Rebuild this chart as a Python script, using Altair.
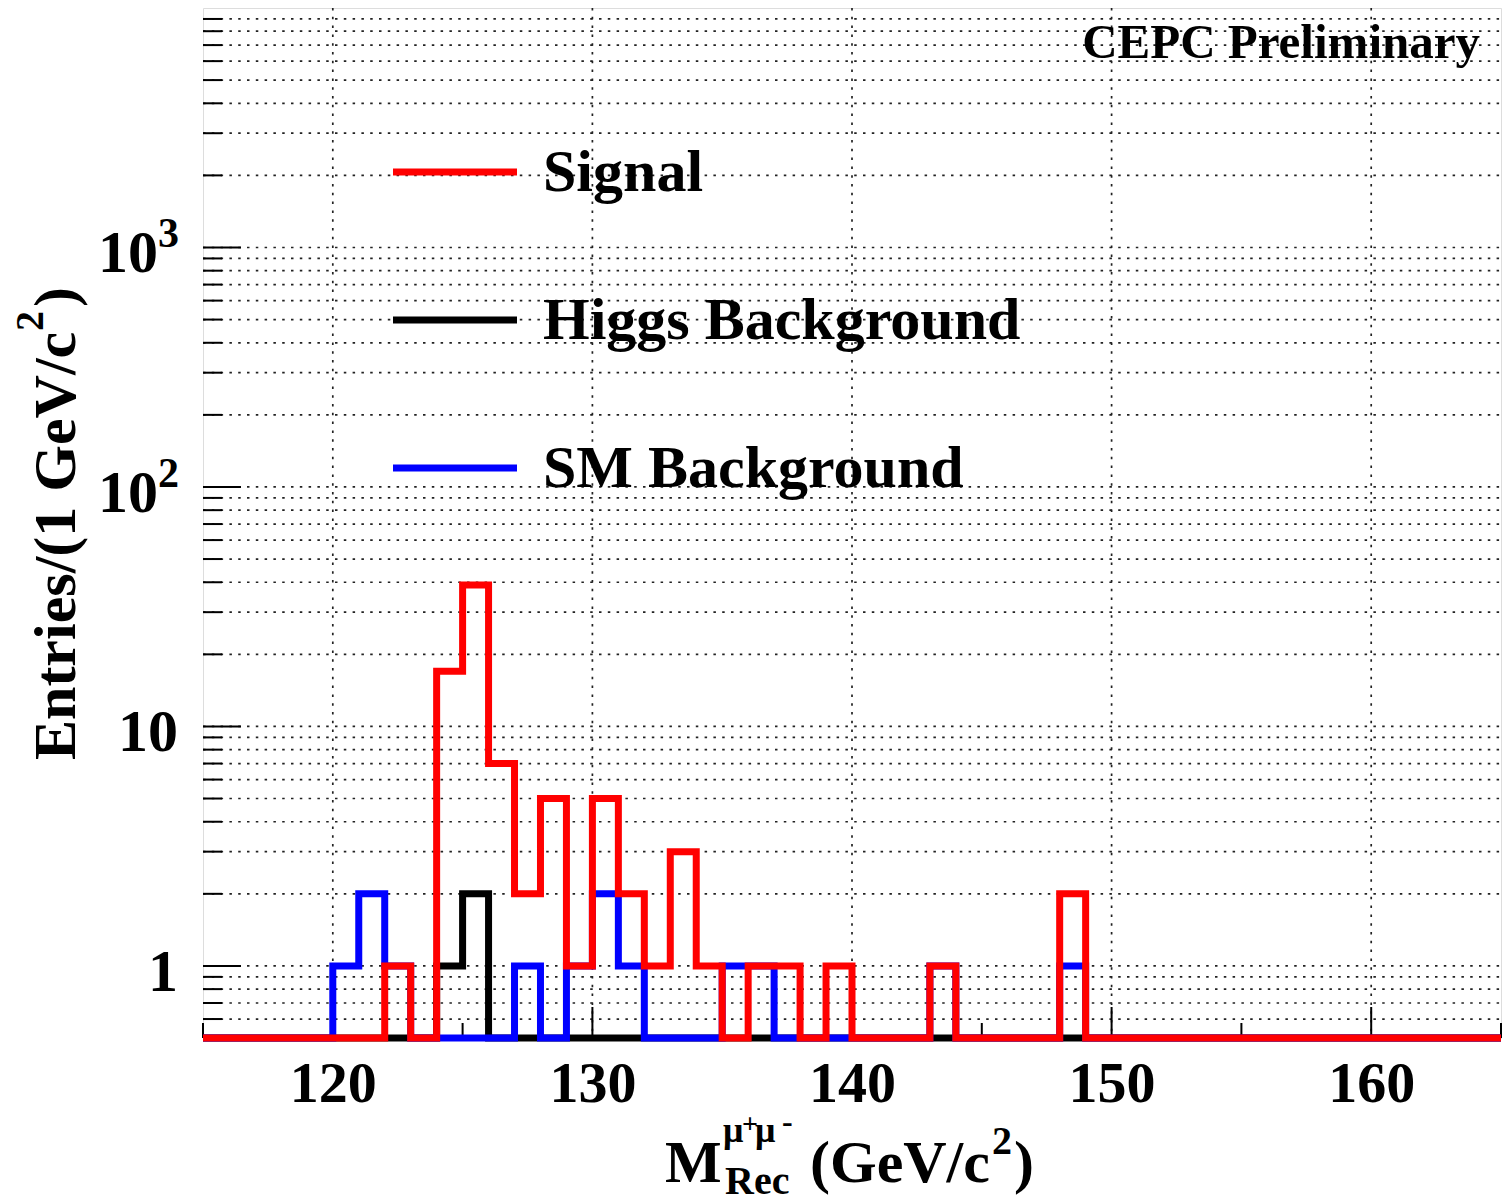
import altair as alt
import pandas as pd

# ---------------- data ----------------
X_MIN, X_MAX = 115, 165
Y_MIN, Y_MAX = 0.5, 10000

signal_bins = [122, 124, 125, 126, 127, 128, 129, 130, 131, 132, 133, 134, 136, 137, 139, 143, 148]
signal_counts = [1, 17, 39, 7, 2, 5, 1, 5, 2, 1, 3, 1, 1, 1, 1, 1, 2]
higgs_bins = [124, 125]
higgs_counts = [1, 2]
sm_bins = [120, 121, 122, 127, 129, 130, 131, 135, 136, 143, 148]
sm_counts = [1, 2, 1, 1, 1, 2, 1, 1, 1, 1, 1]

series_names = ["Signal", "Higgs Background", "SM Background"]
series_colors = ["#ff0000", "#000000", "#0000ff"]

x_major = [120, 130, 140, 150, 160]
x_minor = [115, 125, 135, 145, 155, 165]
y_major = [1, 10, 100, 1000]
y_minor = [0.6, 0.7, 0.8, 0.9, 2, 3, 4, 5, 6, 7, 8, 9,
           20, 30, 40, 50, 60, 70, 80, 90,
           200, 300, 400, 500, 600, 700, 800, 900,
           2000, 3000, 4000, 5000, 6000, 7000, 8000, 9000]

# y tick labels: plain ones and powers of ten (mantissa + exponent)
y_plain_values = [1, 10]
y_plain_labels = ["1", "10"]
y_pow_values = [100, 1000]
y_pow_mantissa = ["10", "10"]
y_pow_exponent = ["2", "3"]

W, H = 1298, 1030
FONT = "Liberation Serif"


def steps(name, bins, counts):
    d = dict(zip(bins, counts))
    rows, i = [], 0
    for lo in range(X_MIN, X_MAX):
        c = d.get(lo, 0)
        rows.append(dict(series=name, x=lo, count=c, i=i)); i += 1
        rows.append(dict(series=name, x=lo + 1, count=c, i=i)); i += 1
    return rows


hist = pd.DataFrame(
    steps("Signal", signal_bins, signal_counts)
    + steps("Higgs Background", higgs_bins, higgs_counts)
    + steps("SM Background", sm_bins, sm_counts)
)

xs = alt.Scale(domain=[X_MIN, X_MAX], nice=False, zero=False)
ys = alt.Scale(type="log", domain=[Y_MIN, Y_MAX], nice=False)

X_AX = alt.Axis(
    values=x_major, title=None, ticks=False, domain=False, grid=False,
    labelFont=FONT, labelFontWeight="bold", labelFontSize=58, labelColor="black",
    labelPadding=17, format="d")


def X(f):
    return alt.X(f, scale=xs, axis=X_AX)


def Y(f):
    return alt.Y(f, scale=ys, axis=None)


dash = [2.5, 6.3]
grid_color = "#222222"

# ---------------- grid & ticks ----------------
ygrid = alt.Chart(pd.DataFrame({"v": y_major + y_minor})).mark_rule(
    strokeDash=dash, color=grid_color, strokeWidth=1.7
).encode(y=Y("v:Q"), x=alt.value(0), x2=alt.value(W))

xgrid = alt.Chart(pd.DataFrame({"v": x_major})).mark_rule(
    strokeDash=dash, color=grid_color, strokeWidth=1.7
).encode(x=X("v:Q"), y=alt.value(0), y2=alt.value(H))

ytick_major = alt.Chart(pd.DataFrame({"v": y_major})).mark_rule(color="black", strokeWidth=2).encode(
    y=Y("v:Q"), x=alt.value(0), x2=alt.value(38))
ytick_minor = alt.Chart(pd.DataFrame({"v": y_minor})).mark_rule(color="black", strokeWidth=2).encode(
    y=Y("v:Q"), x=alt.value(0), x2=alt.value(19))
xtick_major = alt.Chart(pd.DataFrame({"v": x_major})).mark_rule(color="black", strokeWidth=2).encode(
    x=X("v:Q"), y=alt.value(H), y2=alt.value(H - 31))
xtick_minor = alt.Chart(pd.DataFrame({"v": x_minor})).mark_rule(color="black", strokeWidth=2).encode(
    x=X("v:Q"), y=alt.value(H), y2=alt.value(H - 15))

# ---------------- y tick labels ----------------
lab_kw = dict(font=FONT, fontWeight="bold", color="black", baseline="alphabetic")
ylab_plain = alt.Chart(pd.DataFrame({"v": y_plain_values, "t": y_plain_labels})).mark_text(
    fontSize=60, align="right", dy=25, **lab_kw
).encode(y=Y("v:Q"), x=alt.value(-25), text="t:N")
ylab_mant = alt.Chart(pd.DataFrame({"v": y_pow_values, "t": y_pow_mantissa})).mark_text(
    fontSize=60, align="right", dy=25, **lab_kw
).encode(y=Y("v:Q"), x=alt.value(-45), text="t:N")
ylab_exp = alt.Chart(pd.DataFrame({"v": y_pow_values, "t": y_pow_exponent})).mark_text(
    fontSize=42, align="left", dy=0, **lab_kw
).encode(y=Y("v:Q"), x=alt.value(-45), text="t:N")


# ---------------- histograms ----------------
def hist_layer(name, color):
    return alt.Chart(hist).transform_filter(
        alt.datum.series == name
    ).transform_calculate(
        yv="max(datum.count, 0.5)"
    ).mark_line(color=color, strokeWidth=7, strokeJoin="miter", strokeCap="butt").encode(
        x=X("x:Q"),
        y=Y("yv:Q"),
        order=alt.Order("i:Q"),
    )


h_black = hist_layer("Higgs Background", "#000000")
h_blue = hist_layer("SM Background", "#0000ff")
h_red = hist_layer("Signal", "#ff0000")

# ---------------- legend ----------------
legend_layers = []
legend_y = [164, 312, 460]
for name, color, ly in zip(series_names, series_colors, legend_y):
    legend_layers.append(
        alt.Chart(pd.DataFrame({"t": [name]})).mark_rule(color=color, strokeWidth=7).encode(
            x=alt.value(190), x2=alt.value(314), y=alt.value(ly))
    )
    legend_layers.append(
        alt.Chart(pd.DataFrame({"t": [name]})).mark_text(
            font=FONT, fontWeight="bold", fontSize=60, align="left", baseline="alphabetic", color="black"
        ).encode(text="t:N", x=alt.value(340), y=alt.value(ly + 19))
    )


def txt(s, x, y, size, angle=0, align="left"):
    kw = dict(font=FONT, fontWeight="bold", fontSize=size, align=align,
              baseline="alphabetic", color="black")
    if angle:
        kw["angle"] = angle
    return alt.Chart(pd.DataFrame({"t": [s]})).mark_text(**kw).encode(
        text="t:N", x=alt.value(x), y=alt.value(y))


texts = [
    txt("CEPC Preliminary", 1277, 50, 49, align="right"),
    # x title
    txt("M", 462, 1174, 60),
    txt("μ", 520, 1134, 36),
    txt("+", 539, 1125, 28),
    txt("μ", 552, 1134, 36),
    txt("-", 579, 1124, 32),
    txt("Rec", 522, 1186, 40),
    txt("(GeV/c", 607, 1174, 60),
    txt("2", 789, 1146, 40),
    txt(")", 811, 1174, 60),
    # y title
    txt("Entries/(1 GeV/c", -128, 752, 60, angle=270),
    txt("2", -160, 323, 40, angle=270),
    txt(")", -128, 299, 60, angle=270),
]

chart = alt.layer(
    ygrid, xgrid, ytick_major, ytick_minor, xtick_major, xtick_minor,
    ylab_plain, ylab_mant, ylab_exp,
    h_black, h_blue, h_red, *legend_layers, *texts
).properties(
    width=W, height=H,
    padding={"left": 203, "top": 8, "right": 10, "bottom": 165},
    autosize="none",
).configure_view(stroke="black", strokeWidth=2.5).configure(background="white")

chart.save("out.html", embed_options={"renderer": "svg", "actions": False})
